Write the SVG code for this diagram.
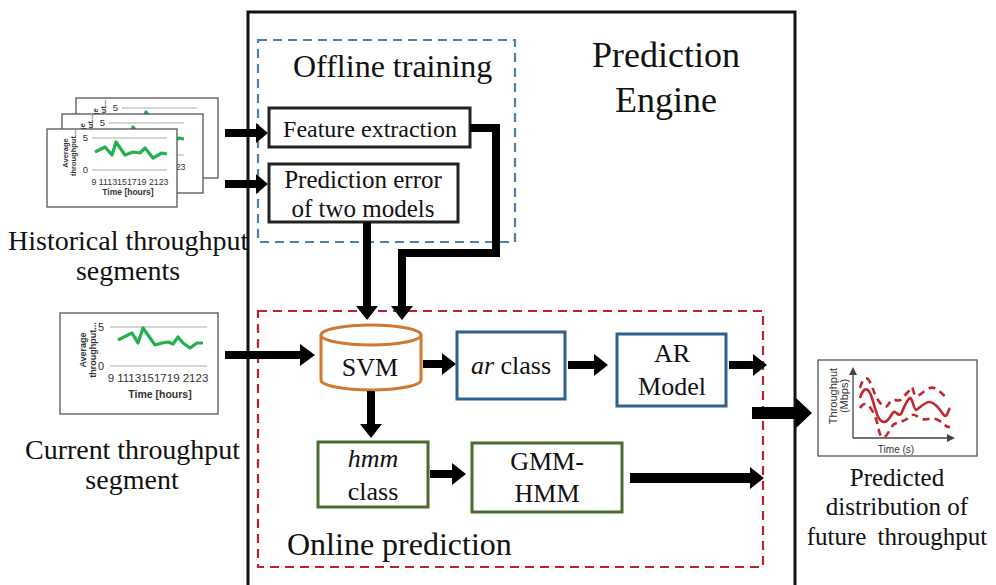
<svg xmlns="http://www.w3.org/2000/svg" xmlns:xlink="http://www.w3.org/1999/xlink" width="996" height="585" viewBox="0 0 996 585">
<style>
.t{font-family:"Liberation Serif","Times New Roman",serif;fill:#111}
.s{font-family:"Liberation Sans",Arial,sans-serif;fill:#333}
.card{fill:#fff;stroke:#555;stroke-width:1.3}
.grid{stroke:#aaa;stroke-width:1}
.green{fill:none;stroke:#22b14c;stroke-width:3.2;stroke-linejoin:round}
.arr{fill:#000}
.blue{fill:#fff;stroke:#2f5f8a;stroke-width:3}
.grn{fill:#fff;stroke:#4a6b2e;stroke-width:3}
.blk{fill:#fff;stroke:#222;stroke-width:3}
.red{fill:none;stroke:#c0282d;stroke-width:2.6}
</style>
<defs>
<g id="chart">
<line class="grid" x1="92" y1="138" x2="167" y2="138"/>
<line class="grid" x1="92" y1="170" x2="167" y2="170"/>
<text class="s" x="88" y="141" font-size="9.5" text-anchor="end">5</text>
<text class="s" x="88" y="173" font-size="9.5" text-anchor="end">0</text>
<polyline class="green" points="95,152 105,147 112,155 116,142 125,155 133,152 140,153 145,148 153,158 162,153 167,154"/>
<text class="s" x="130" y="185" font-size="8.8" text-anchor="middle">9 1113151719 2123</text>
<text class="s" x="128" y="195" font-size="8.5" font-weight="bold" text-anchor="middle">Time [hours]</text>
<g transform="translate(70,153) rotate(-90)"><text class="s" x="0" y="-2" font-size="7.5" font-weight="bold" text-anchor="middle">Average</text><text class="s" x="0" y="6" font-size="7.5" font-weight="bold" text-anchor="middle">throughput...</text></g>
</g>
</defs>

<!-- main engine -->
<g id="engine">
<rect x="248" y="12" width="547" height="600" fill="none" stroke="#111" stroke-width="3"/>
<text class="t" x="666" y="67" font-size="36" text-anchor="middle">Prediction</text>
<text class="t" x="666" y="112" font-size="36" text-anchor="middle">Engine</text>
</g>

<g id="offline">
<rect x="258" y="40" width="257" height="202" fill="none" stroke="#4f7fa8" stroke-width="2.2" stroke-dasharray="9 6"/>
<text class="t" x="293" y="77" font-size="32">Offline training</text>
</g>

<g id="online">
<rect x="258" y="311" width="505" height="256" fill="none" stroke="#c0202a" stroke-width="2.2" stroke-dasharray="9 6"/>
<text class="t" x="287" y="555" font-size="32">Online prediction</text>
</g>

<!-- historical cards -->
<g id="historical">
<rect class="card" x="76" y="98" width="142" height="80"/>
<use xlink:href="#chart" transform="translate(30,-30)"/>
<rect class="card" x="62" y="114" width="141" height="79"/>
<use xlink:href="#chart" transform="translate(17,-15)"/>
<rect class="card" x="47" y="129" width="130" height="78"/>
<use xlink:href="#chart"/>
<text class="t" x="8" y="250" font-size="28">Historical throughput</text>
<text class="t" x="128" y="280" font-size="28" text-anchor="middle">segments</text>
</g>

<g id="current">
<rect class="card" x="60" y="313" width="158" height="101"/>
<line class="grid" x1="110" y1="327" x2="207" y2="327"/>
<line class="grid" x1="110" y1="366" x2="207" y2="366"/>
<text class="s" x="104" y="331" font-size="11" text-anchor="end">5</text>
<text class="s" x="104" y="370" font-size="11" text-anchor="end">0</text>
<polyline class="green" points="118,340 132,333 138,343 143,328 155,345 162,343 168,342 173,344 178,337 183,343 190,348 197,343 203,343"/>
<text class="s" x="158" y="382" font-size="11.5" text-anchor="middle">9 1113151719 2123</text>
<text class="s" x="160" y="398" font-size="10.5" font-weight="bold" text-anchor="middle">Time [hours]</text>
<g transform="translate(88,350) rotate(-90)"><text class="s" x="0" y="-2" font-size="9" font-weight="bold" text-anchor="middle">Average</text><text class="s" x="0" y="8" font-size="9" font-weight="bold" text-anchor="middle">throughput...</text></g>
<text class="t" x="25" y="459" font-size="28" textLength="215">Current throughput</text>
<text class="t" x="132" y="489" font-size="28" text-anchor="middle">segment</text>
</g>

<g id="predicted">
<rect class="card" x="818" y="360" width="159" height="96"/>
<line x1="853" y1="438" x2="853" y2="372" stroke="#444" stroke-width="1.3"/>
<path d="M849,375 L853,367 L857,375 Z" fill="#444"/>
<line x1="853" y1="438" x2="950" y2="438" stroke="#444" stroke-width="1.3"/>
<path d="M947,434 L955,438 L947,442 Z" fill="#444"/>
<path class="red" d="M860,398 C863,388 868,385 872,398 S878,422 884,422 S892,410 895,412 S900,417 902,412 S908,399 910,398 S914,410 916,410 S925,401 930,402 S939,408 943,414 S948,410 950,408"/>
<path class="red" stroke-dasharray="7 5" d="M860,388 C862,380 866,374 870,382 S875,398 882,405 S888,398 895,400 S902,398 908,392 S912,386 913,390 S916,397 918,396 S925,390 930,388 S940,392 947,398"/>
<path class="red" stroke-dasharray="7 5" d="M860,408 C863,403 867,401 873,412 S878,434 882,437 S890,428 893,425 S902,423 908,418 S913,414 920,418 S930,416 938,420 S945,428 950,427"/>
<g transform="translate(838,396) rotate(-90)"><text class="s" x="0" y="-1" font-size="11" text-anchor="middle">Throughput</text><text class="s" x="0" y="10" font-size="11" text-anchor="middle">(Mbps)</text></g>
<text class="s" x="896" y="453" font-size="10" text-anchor="middle">Time (s)</text>
<text class="t" x="897" y="486" font-size="25" text-anchor="middle">Predicted</text>
<text class="t" x="897" y="515" font-size="25" text-anchor="middle">distribution of</text>
<text class="t" x="897" y="545" font-size="25" text-anchor="middle" word-spacing="5">future throughput</text>
</g>

<!-- nodes -->
<g id="feature">
<rect class="blk" x="269" y="108" width="201" height="39"/>
<text class="t" x="370" y="137" font-size="24" text-anchor="middle">Feature extraction</text>
</g>
<g id="prederr">
<rect class="blk" x="269" y="164" width="189" height="58"/>
<text class="t" x="363" y="188" font-size="25" text-anchor="middle">Prediction error</text>
<text class="t" x="363" y="217" font-size="25" text-anchor="middle">of two models</text>
</g>
<g id="svm">
<path d="M321,335 V380 A50,10 0 0 0 421,380 V335" fill="#fff" stroke="#d0782f" stroke-width="3"/>
<ellipse cx="371" cy="335" rx="50" ry="10" fill="#fff" stroke="#d0782f" stroke-width="3"/>
<text class="t" x="370" y="376" font-size="26" text-anchor="middle">SVM</text>
</g>
<g id="arclass">
<rect class="blue" x="457" y="332" width="108" height="67"/>
<text class="t" x="511" y="374" font-size="26" text-anchor="middle"><tspan font-style="italic">ar</tspan> class</text>
</g>
<g id="armodel">
<rect class="blue" x="617" y="334" width="109" height="72"/>
<text class="t" x="672" y="362" font-size="26" text-anchor="middle">AR</text>
<text class="t" x="672" y="395" font-size="26" text-anchor="middle">Model</text>
</g>
<g id="hmmclass">
<rect class="grn" x="318" y="442" width="110" height="65"/>
<text class="t" x="373" y="467" font-size="26" font-style="italic" text-anchor="middle">hmm</text>
<text class="t" x="373" y="500" font-size="26" text-anchor="middle">class</text>
</g>
<g id="gmmhmm">
<rect class="grn" x="472" y="443" width="150" height="69"/>
<text class="t" x="547" y="470" font-size="26" text-anchor="middle">GMM-</text>
<text class="t" x="547" y="502" font-size="26" text-anchor="middle">HMM</text>
</g>

<!-- connectors -->
<g id="connectors">
<path class="arr" d="M225,129 H256 V123 L268,133 L256,143 V137 H225 Z"/>
<path class="arr" d="M225,180 H256 V174 L268,184 L256,194 V188 H225 Z"/>
<path class="arr" d="M225,351 H300 V344 L315,355 L300,366 V359 H225 Z"/>
<path class="arr" d="M423,360 H442 V353 L456,364 L442,375 V368 H423 Z"/>
<path class="arr" d="M568,361 H594 V354 L608,365 L594,376 V369 H568 Z"/>
<path class="arr" d="M729,361 H753 V354 L767,365 L753,376 V369 H729 Z"/>
<path class="arr" d="M367,391 V424 H360 L371,438 L382,424 H375 V391 Z"/>
<path class="arr" d="M430,470 H452 V463 L466,474 L452,485 V478 H430 Z"/>
<path class="arr" d="M630,473 H750 V467 L764,478 L750,489 V483 H630 Z"/>
<path class="arr" d="M752,407 H796 V398 L812,413 L796,428 V419 H752 Z"/>
<path class="arr" d="M363,222 V306 H356 L367,320 L378,306 H371 V222 Z"/>
<path d="M470,128 H496 V253 H402 V306" fill="none" stroke="#000" stroke-width="8" stroke-linejoin="miter"/>
<path class="arr" d="M391,306 L402,320 L413,306 Z"/>
</g>
</svg>
